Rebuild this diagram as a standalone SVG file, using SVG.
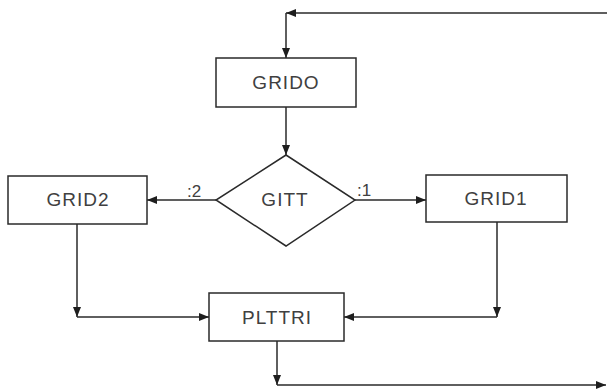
<svg xmlns="http://www.w3.org/2000/svg" width="607" height="390" viewBox="0 0 607 390">
  <style>
    .box { fill: #ffffff; stroke: #2a2a2a; stroke-width: 1.5; }
    .lbl { font-family: "Liberation Sans", Arial, sans-serif; font-size: 19px; fill: #404040; text-anchor: middle; letter-spacing: 1px; }
    .cond { font-family: "Liberation Sans", Arial, sans-serif; font-size: 17px; fill: #404040; }
    .flow { fill: none; stroke: #2a2a2a; stroke-width: 1.5; marker-end: url(#arrow); }
  </style>
  <defs>
    <marker id="arrow" viewBox="0 0 10 8" refX="10" refY="4" markerWidth="10" markerHeight="8" markerUnits="userSpaceOnUse" orient="auto">
      <path d="M0,0 L10,4 L0,8 z" fill="#1e1e1e"/>
    </marker>
  </defs>
  <rect width="607" height="390" fill="#ffffff"/>

  <!-- connectors -->
  <g id="connectors">
    <path class="flow" d="M607,13 L286,13"/>
    <path class="flow" d="M286,13 L286,58"/>
    <path class="flow" d="M286,107 L286,155"/>
    <path class="flow" d="M216,200 L147,200"/>
    <path class="flow" d="M355,200 L426,200"/>
    <path class="flow" d="M77,224 L77,317"/>
    <path class="flow" d="M77,317 L209,317"/>
    <path class="flow" d="M497,222 L497,317"/>
    <path class="flow" d="M497,317 L344,317"/>
    <path class="flow" d="M277,341 L277,385"/>
    <path class="flow" d="M277,385 L606,385"/>
    <text class="cond" x="187" y="197">:2</text>
    <text class="cond" x="357" y="196">:1</text>
  </g>

  <g id="grido">
    <rect class="box" x="216" y="58" width="140" height="49"/>
    <text class="lbl" x="286" y="89">GRIDO</text>
  </g>

  <g id="gitt">
    <polygon class="box" points="286,155 355,200 286,246 216,200"/>
    <text class="lbl" x="285" y="206">GITT</text>
  </g>

  <g id="grid2">
    <rect class="box" x="8" y="176" width="139" height="48"/>
    <text class="lbl" x="78" y="206">GRID2</text>
  </g>

  <g id="grid1">
    <rect class="box" x="426" y="175" width="141" height="47"/>
    <text class="lbl" x="496" y="205">GRID1</text>
  </g>

  <g id="plttri">
    <rect class="box" x="209" y="293" width="135" height="48"/>
    <text class="lbl" x="277" y="324">PLTTRI</text>
  </g>
</svg>
